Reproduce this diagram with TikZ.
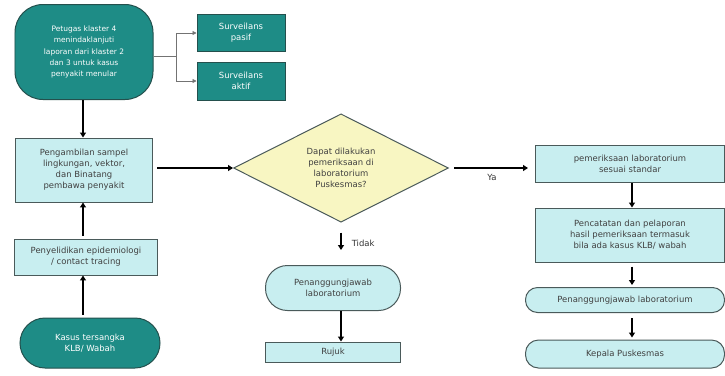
\documentclass[tikz,border=0pt]{standalone}
\usepackage{fontspec}
\setmainfont{DejaVu Sans}
\usetikzlibrary{shapes.geometric,arrows.meta}
\definecolor{tealfill}{HTML}{1E8C86}
\definecolor{tealedge}{HTML}{24504D}
\definecolor{cyanfill}{HTML}{C8EEF0}
\definecolor{boxedge}{HTML}{4A5A5A}
\definecolor{yellowfill}{HTML}{F8F6C2}
\tikzset{
  every node/.style={font=\fontsize{8.5}{11}\selectfont, align=center, inner sep=2pt},
  tealbox/.style={draw=tealedge, line width=1pt, fill=tealfill, text=white},
  lightbox/.style={draw=boxedge, line width=1pt, fill=cyanfill, text=black!75},
  flow/.style={draw=black, line width=1.6pt, -{Triangle[length=5pt,width=6pt]}},
  thinflow/.style={draw=black!55, line width=0.6pt, -{Triangle[length=4pt,width=4pt]}},
}
\begin{document}
\begin{tikzpicture}[x=1bp, y=-1bp]
\useasboundingbox[fill=white] (0,0) rectangle (725,375);

% left column
\node[tealbox, rounded corners=28bp, minimum width=138bp, minimum height=95bp,
      font=\fontsize{7.5}{11.5}\selectfont] (tl) at (84,52)
  {Petugas klaster 4\\menindaklanjuti\\laporan dari klaster 2\\dan 3 untuk kasus\\penyakit menular};
\node[tealbox, minimum width=88bp, minimum height=37bp] (pasif) at (241,33) {Surveilans\\pasif};
\node[tealbox, minimum width=88bp, minimum height=38bp] (aktif) at (241,81) {Surveilans\\aktif};
\node[lightbox, minimum width=137bp, minimum height=64bp] (peng) at (84,170)
  {Pengambilan sampel\\lingkungan, vektor,\\dan Binatang\\pembawa penyakit};
\node[lightbox, minimum width=143bp, minimum height=36bp] (peny) at (86,257)
  {Penyelidikan epidemiologi\\/ contact tracing};
\node[tealbox, rounded corners=25bp, minimum width=140bp, minimum height=50bp] (kasus) at (90,343)
  {Kasus tersangka\\KLB/ Wabah};

% decision
\node[diamond, draw=boxedge, line width=1pt, fill=yellowfill, text=black!75,
      minimum width=215bp, minimum height=100bp, inner sep=0pt] (dia) at (341,168)
  {Dapat dilakukan\\pemeriksaan di\\laboratorium\\Puskesmas?};

% middle column
\node[lightbox, rounded corners=22bp, minimum width=135bp, minimum height=45bp] (pjm) at (333,288)
  {Penanggungjawab\\laboratorium};
\node[lightbox, minimum width=135bp, minimum height=20bp, inner sep=1pt] (rujuk) at (333,352) {Rujuk};

% right column
\node[lightbox, minimum width=189bp, minimum height=37bp] (pem) at (630,164)
  {pemeriksaan laboratorium\\sesuai standar};
\node[lightbox, minimum width=189bp, minimum height=54bp] (penc) at (630,235)
  {Pencatatan dan pelaporan\\hasil pemeriksaan termasuk\\bila ada kasus KLB/ wabah};
\node[lightbox, rounded corners=12bp, minimum width=199bp, minimum height=25bp, inner sep=1pt] (pjr) at (625,300)
  {Penanggungjawab laboratorium};
\node[lightbox, rounded corners=13bp, minimum width=199bp, minimum height=28bp, inner sep=1pt] (kep) at (625,354)
  {Kepala Puskesmas};

% connectors
\coordinate (fork) at (176,56);
\coordinate (leftcol) at (83,0);
\coordinate (rightcol) at (632,0);
\draw[draw=black!55, line width=0.6pt] (tl.east |- fork) -- (fork);
\draw[thinflow] (fork) |- (pasif.west);
\draw[thinflow] (fork) |- (aktif.west);

\draw[flow] (tl.south -| leftcol) -- (peng.north -| leftcol);
\draw[flow, shorten <=3bp] (peny.north -| leftcol) -- (peng.south -| leftcol);
\draw[flow, shorten <=3bp] (kasus.north -| leftcol) -- (peny.south -| leftcol);
\draw[flow, line width=2.2pt, shorten <=4bp] (peng.east |- dia.west) -- (dia.west);
\draw[flow, shorten <=5bp, shorten >=7bp] (dia.east) -- node[below=4bp, text=black!80] {Ya} (pem.west |- dia.east);
\draw[flow, shorten <=10bp, shorten >=15bp] (dia.south) -- node[right=8bp, text=black!80] {Tidak} (dia.south |- pjm.north);
\draw[flow] (pjm.south -| dia.south) -- (rujuk.north -| dia.south);
\draw[flow] (pem.south -| rightcol) -- (penc.north -| rightcol);
\draw[flow, shorten <=4bp, shorten >=2bp] (penc.south -| rightcol) -- (pjr.north -| rightcol);
\draw[flow, shorten <=5bp, shorten >=2bp] (pjr.south -| rightcol) -- (kep.north -| rightcol);
\end{tikzpicture}
\end{document}
